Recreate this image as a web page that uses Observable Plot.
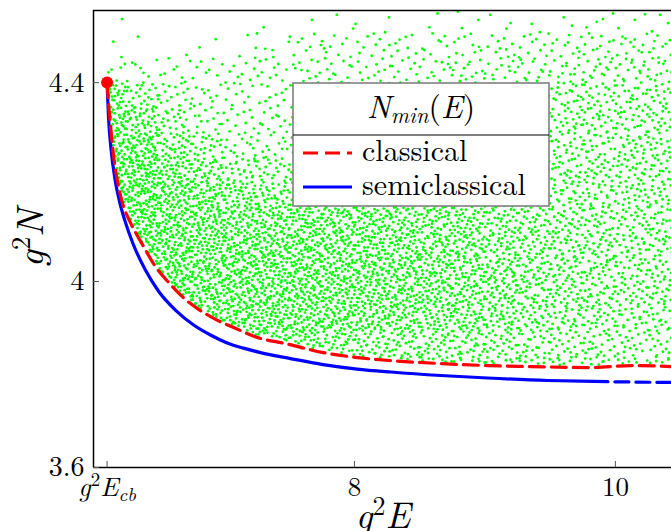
<!DOCTYPE html>
<html><head><meta charset="utf-8">
<script src="https://cdn.jsdelivr.net/npm/d3@7"></script>
<script src="https://cdn.jsdelivr.net/npm/@observablehq/plot@0.6"></script>
<style>
html,body{margin:0;padding:0;background:#fff;overflow:hidden;}
#wrap{position:relative;width:671px;height:531px;}
</style></head><body><div id="wrap"></div>
<script>
// classical N_min(E) curve (red dashed)
const classicalX = [6.104,6.118,6.132,6.155,6.183,6.225,6.28,6.33,6.38,6.47,6.58,6.687,6.80,6.943,7.096,7.25,7.476,7.762,8.023,8.276,8.66,9.021,9.351,9.812,10.119,10.43];
const classicalY = [4.400,4.350,4.310,4.250,4.203,4.155,4.120,4.095,4.072,4.032,3.997,3.968,3.945,3.923,3.905,3.888,3.875,3.857,3.847,3.841,3.835,3.831,3.829,3.827,3.831,3.829];
// semiclassical N_min(E) curve (blue): solid up to semiDashFrom, dashed beyond
const semiX = [6.104,6.115,6.135,6.165,6.20,6.24,6.30,6.40,6.50,6.63,6.77,6.90,7.02,7.15,7.28,7.51,7.76,8.02,8.28,8.66,9.02,9.48,9.835,10.10,10.43];
const semiY = [4.400,4.330,4.265,4.205,4.160,4.123,4.078,4.022,3.980,3.942,3.912,3.892,3.877,3.866,3.857,3.845,3.833,3.824,3.818,3.811,3.806,3.801,3.799,3.798,3.797];
const semiDashFrom = 9.835;
// endpoint E_cb
const cbX = [6.104];
const cbY = [4.4];
// ticks
const xTickValues = [6.104, 8, 10];
const xTickLabels = ["g2Ecb", "8", "10"];
const yTickValues = [3.626, 4, 4.4];
const yTickLabels = ["3.6", "4", "4.4"];
// legend
const legendTitle = ["N", "min", "(", "E", ")"];
const legendNames = ["classical", "semiclassical"];
// green sample cloud: density grid (points per cell), rows top -> bottom
const cloudXEdges = [6.0,6.25,6.5,6.75,7.0,7.25,7.5,7.75,8.0,8.25,8.5,8.75,9.0,9.25,9.5,9.75,10.0,10.25,10.5];
const cloudYTop = [4.55,4.50,4.45,4.40,4.35,4.30,4.25,4.20,4.15,4.10,4.05,4.00,3.95,3.90,3.85];
const cloudCounts = [
 [1,0,0,0,1,1,1,2,2,2,2,3,3,3,3,4,3,3],
 [4,1,1,2,3,5,8,9,9,9,9,10,10,11,11,12,12,12],
 [7,7,8,8,9,10,11,11,11,12,12,13,13,14,15,16,16,16],
 [46,25,15,11,10,10,16,16,16,16,16,16,16,16,21,21,21,21],
 [52,40,21,14,10,11,17,17,17,17,17,17,17,17,23,23,23,23],
 [58,52,35,23,15,14,20,20,20,20,20,20,20,20,23,23,23,23],
 [58,58,46,35,25,21,25,25,25,25,25,25,25,25,25,25,25,25],
 [58,58,52,46,40,35,32,32,32,32,32,32,30,28,25,25,25,25],
 [58,58,52,52,46,46,46,46,44,41,39,37,32,30,28,25,25,25],
 [58,58,55,52,52,52,48,48,46,44,41,39,35,32,30,28,25,25],
 [58,58,55,52,52,52,52,48,48,46,44,40,37,32,30,28,25,25],
 [0,58,55,52,52,52,52,48,48,46,44,40,37,32,30,28,25,25],
 [0,0,55,52,52,52,48,48,46,44,41,39,35,30,28,25,23,23],
 [0,0,0,46,46,44,40,35,32,30,29,28,25,23,21,21,18,18],
 [0,0,0,0,0,0,0,35,35,35,35,32,30,28,25,23,23,23]
];

function classicalAt(x) {
  if (x < classicalX[0]) return Infinity;
  for (let i = 1; i < classicalX.length; i++) {
    if (x <= classicalX[i]) {
      const t = (x - classicalX[i-1]) / (classicalX[i] - classicalX[i-1]);
      return classicalY[i-1] + t * (classicalY[i] - classicalY[i-1]);
    }
  }
  return classicalY[classicalY.length - 1];
}
// fixed low-discrepancy placement inside each cell
function halton(i, b) { let f = 1, r = 0; while (i > 0) { f /= b; r += f * (i % b); i = Math.floor(i / b); } return r; }
const cloud = [];
cloudCounts.forEach((row, r) => row.forEach((n, c) => {
  const x0 = cloudXEdges[c], x1 = cloudXEdges[c+1];
  const y1 = cloudYTop[r], y0 = y1 - 0.05;
  const seed = (r * 18 + c) * 97 + 7;
  for (let k = 0; k < n; k++) {
    const x = x0 + halton(seed + k, 2) * (x1 - x0);
    const y = y0 + halton(seed + k, 3) * (y1 - y0);
    if (y > classicalAt(x) + 0.004) cloud.push({x, y});
  }
}));

const classical = classicalX.map((x, i) => ({x, y: classicalY[i]}));
const semi = semiX.map((x, i) => ({x, y: semiY[i]}));
const semiSolid = semi.filter(d => d.x <= semiDashFrom);
const semiDashed = semi.filter(d => d.x >= semiDashFrom);
const cb = cbX.map((x, i) => ({x, y: cbY[i]}));

const xDom = [6.0, 10.43], yDom = [3.626, 4.545];
const serif = "'Latin Modern Roman', 'Liberation Serif', serif";
const plot = Plot.plot({
  width: 671, height: 531,
  marginTop: 10, marginBottom: 64, marginLeft: 93, marginRight: 0,
  style: {fontFamily: serif, background: "white", overflow: "visible"},
  x: {domain: xDom, label: null},
  y: {domain: yDom, label: null},
  marks: [
    Plot.dot(cloud, {x: "x", y: "y", r: 1.4, fill: "#00ff00", clip: true}),
    Plot.line(semiSolid, {x: "x", y: "y", stroke: "#0000ff", strokeWidth: 3.2, curve: "monotone-x", clip: true}),
    Plot.line(semiDashed, {x: "x", y: "y", stroke: "#0000ff", strokeWidth: 3.2, strokeDasharray: "14,7", curve: "monotone-x", clip: true}),
    Plot.line(classical, {x: "x", y: "y", stroke: "#ff0000", strokeWidth: 3.2, strokeDasharray: "15,7", curve: "monotone-x", clip: true}),
    Plot.dot(cb, {x: "x", y: "y", r: 6, fill: "#ff0000"}),
    Plot.ruleX([xDom[0]], {stroke: "#000", strokeWidth: 1.5}),
    Plot.ruleY([yDom[1]], {stroke: "#000", strokeWidth: 1.5}),
    Plot.ruleY([yDom[0]], {stroke: "#000", strokeWidth: 1.5}),
    Plot.axisX(xTickValues, {label: null, tickSize: -6, tickPadding: 15, fontSize: 27, stroke: "#555", fill: "#000", fontFamily: serif, tickFormat: d => xTickLabels[xTickValues.indexOf(d)]}),
    Plot.axisY(yTickValues, {label: null, tickSize: -6, tickPadding: 15, fontSize: 28, stroke: "#555", fill: "#000", fontFamily: serif, tickFormat: d => yTickLabels[yTickValues.indexOf(d)]})
  ]
});
document.getElementById("wrap").appendChild(plot);
const svg = d3.select(plot);

// rich-text tick label g^2 E_cb
svg.selectAll("[aria-label='x-axis tick label'] text").each(function() {
  const t = d3.select(this);
  if (t.text() === "g2Ecb") {
    t.text("");
    t.append("tspan").attr("font-style", "italic").text("g");
    t.append("tspan").attr("dy", -10).attr("font-size", "70%").text("2");
    t.append("tspan").attr("dy", 10).attr("font-style", "italic").text("E");
    t.append("tspan").attr("dy", 5).attr("font-size", "70%").attr("font-style", "italic").text("cb");
  }
});
function richLabel(x, y, rot, letter, size) {
  const t = svg.append("text").attr("transform", `translate(${x},${y}) rotate(${rot})`)
    .attr("text-anchor", "middle").attr("font-family", serif).attr("font-size", size).attr("fill", "#000");
  t.append("tspan").attr("font-style", "italic").text("g");
  t.append("tspan").attr("dy", -13).attr("font-size", "70%").text("2");
  t.append("tspan").attr("dy", 13).attr("font-style", "italic").text(letter);
}
richLabel(43, 238, -90, "N", 38);
richLabel(383, 528, 0, "E", 37);

// legend box (inside plot area, upper middle)
const L = svg.append("g").attr("transform", "translate(293,83)").attr("font-family", serif).attr("fill", "#000").attr("text-anchor", "start");
L.append("rect").attr("width", 256).attr("height", 123).attr("fill", "#fff").attr("stroke", "#808080").attr("stroke-width", 1.6);
L.append("line").attr("x1", 0).attr("x2", 256).attr("y1", 52).attr("y2", 52).attr("stroke", "#000").attr("stroke-width", 1);
const ht = L.append("text").attr("x", 128).attr("y", 35).attr("text-anchor", "middle").attr("font-size", 32);
ht.append("tspan").attr("font-style", "italic").text(legendTitle[0]);
ht.append("tspan").attr("font-style", "italic").attr("font-size", "70%").attr("dy", 5).text(legendTitle[1]);
ht.append("tspan").attr("dy", -5).text(legendTitle[2]);
ht.append("tspan").attr("font-style", "italic").text(legendTitle[3]);
ht.append("tspan").text(legendTitle[4]);
L.append("line").attr("x1", 10).attr("x2", 59).attr("y1", 70).attr("y2", 70).attr("stroke", "#ff0000").attr("stroke-width", 3.2).attr("stroke-dasharray", "15,7");
L.append("text").attr("x", 69).attr("y", 78).attr("text-anchor", "start").attr("font-size", 30).text(legendNames[0]);
L.append("line").attr("x1", 10).attr("x2", 59).attr("y1", 104).attr("y2", 104).attr("stroke", "#0000ff").attr("stroke-width", 3.2);
L.append("text").attr("x", 69).attr("y", 112).attr("text-anchor", "start").attr("font-size", 30).text(legendNames[1]);
</script></body></html>
